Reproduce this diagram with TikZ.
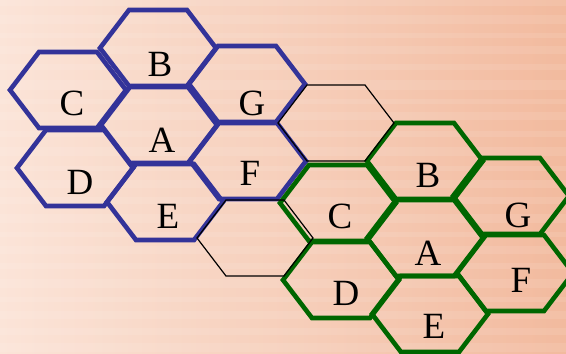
\documentclass[tikz,border=0pt]{standalone}
\usepackage{fontspec}
\setmainfont{Liberation Serif}
\definecolor{bgL}{HTML}{FBE4D8}
\definecolor{bgR}{HTML}{F2BA9E}
\definecolor{hexblue}{HTML}{333399}
\definecolor{hexgreen}{HTML}{006600}
\tikzset{
  hexpath/.pic={\path[pic actions] (-58,0)--(-29,-38)--(29,-38)--(58,0)--(29,38)--(-29,38)--cycle;},
  bluehex/.style={draw=hexblue,line width=4.6pt,line join=miter},
  greenhex/.style={draw=hexgreen,line width=4.6pt,line join=miter},
  thinhex/.style={draw=black,line width=1.2pt,line join=miter},
  lbl/.style={font=\fontsize{37}{37}\selectfont,inner sep=0pt}
}
\begin{document}
\begin{tikzpicture}[x=1pt,y=-1pt]
\clip (0,0) rectangle (566,354);
\shade[left color=bgL,right color=bgR] (0,0) rectangle (566,354);
\foreach \y/\h in {0/6,15/9,33/5,46/8,64/6,80/10,99/5,112/8,131/6,147/9,166/5,180/8,197/7,214/9,232/5,246/8,263/6,279/9,297/5,311/8,328/7,343/9}{
  \fill[white,opacity=0.09] (0,\y) rectangle (566,\y+\h);
}
% blue cluster
\pic[bluehex] at (158,48) {hexpath};
\pic[bluehex] at (68,90) {hexpath};
\pic[bluehex] at (75,168) {hexpath};
\pic[bluehex] at (159,125) {hexpath};
\pic[bluehex] at (165,202) {hexpath};
\pic[bluehex] at (247,84) {hexpath};
\pic[bluehex] at (248,161) {hexpath};
% green cluster
\pic[greenhex] at (425,161) {hexpath};
\pic[greenhex] at (511,196) {hexpath};
\pic[greenhex] at (338,203) {hexpath};
\pic[greenhex] at (425,238) {hexpath};
\pic[greenhex] at (341,280) {hexpath};
\pic[greenhex] at (430,314) {hexpath};
\pic[greenhex] at (515,273) {hexpath};
% thin black
\pic[thinhex] at (336,123) {hexpath};
\pic[thinhex] at (255,238) {hexpath};
% labels
\node[lbl] (bB) at (160,64) {B};
\node[lbl] (bC) at (72,103) {C};
\node[lbl] (bA) at (162,140) {A};
\node[lbl] (bD) at (80,182) {D};
\node[lbl] (bE) at (168,216) {E};
\node[lbl] (bG) at (252,103) {G};
\node[lbl] (bF) at (250,173) {F};
\node[lbl] (gB) at (428,175) {B};
\node[lbl] (gG) at (518,215) {G};
\node[lbl] (gC) at (340,216) {C};
\node[lbl] (gA) at (428,253) {A};
\node[lbl] (gD) at (346,293) {D};
\node[lbl] (gE) at (434,326) {E};
\node[lbl] (gF) at (521,280) {F};
\end{tikzpicture}
\end{document}
